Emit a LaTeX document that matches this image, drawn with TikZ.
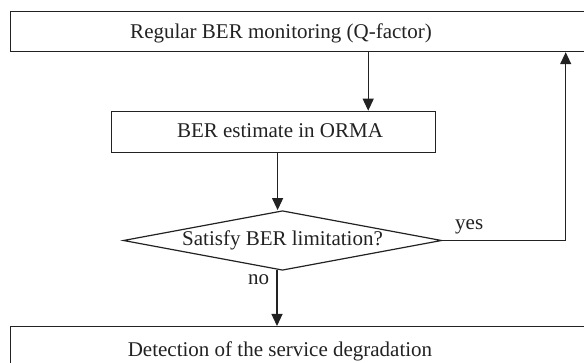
\documentclass[tikz,border=0pt]{standalone}
\usepackage{fontspec}
\setmainfont{Liberation Serif}
\usetikzlibrary{arrows.meta,shapes.geometric}
\definecolor{ink}{HTML}{222222}
\begin{document}
\begin{tikzpicture}[x=1pt,y=-1pt,
  every node/.style={inner sep=0pt, text=ink, font=\fontsize{21}{25}\selectfont},
  box/.style={draw=ink, line width=1.2pt, rectangle, anchor=north west},
  txt/.style={anchor=base},
  decision/.style={draw=ink, line width=1.2pt, diamond, aspect=5.3,
    minimum width=318.4pt, minimum height=59.6pt},
  flow/.style={draw=ink, line width=1.2pt, -{Triangle[length=12pt,width=11pt]}},
]
\useasboundingbox (0,0) rectangle (584,363);
\clip (0,0) rectangle (584,363);

% process boxes (the outer two run past the page edge)
\node[box, minimum width=600pt, minimum height=40.3pt] (monitor) at (10,10.7) {};
\node[txt] (monitorTxt) at (281,39) {Regular BER monitoring (Q-factor)};

\node[box, minimum width=324pt, minimum height=41pt] (estimate) at (111,110.7) {};
\node[txt] (estimateTxt) at (280,138) {BER estimate in ORMA};

\node[decision] (check) at (282.5,240.5) {Satisfy BER limitation?};

\node[box, minimum width=600pt, minimum height=60pt] (degrade) at (10,326) {};
\node[txt] (degradeTxt) at (280,357) {Detection of the service degradation};

% branch labels
\node[anchor=base west] (yesTxt) at (455,230) {yes};
\node[anchor=base west] (noTxt) at (248,285) {no};

% connectors
\draw[flow] ([xshift=94.6pt]estimate.north |- monitor.south) -- ([xshift=94.6pt]estimate.north);
\draw[flow] ([xshift=4pt]estimate.south) -- ([xshift=4pt]estimate.south |- check.north);
\draw[flow] ([xshift=-5.5pt,yshift=1pt]check.south) -- ([xshift=-5.5pt]check.south |- degrade.north);
\draw[flow] (check.east) -| ([xshift=555.7pt]monitor.south west);
\end{tikzpicture}
\end{document}
